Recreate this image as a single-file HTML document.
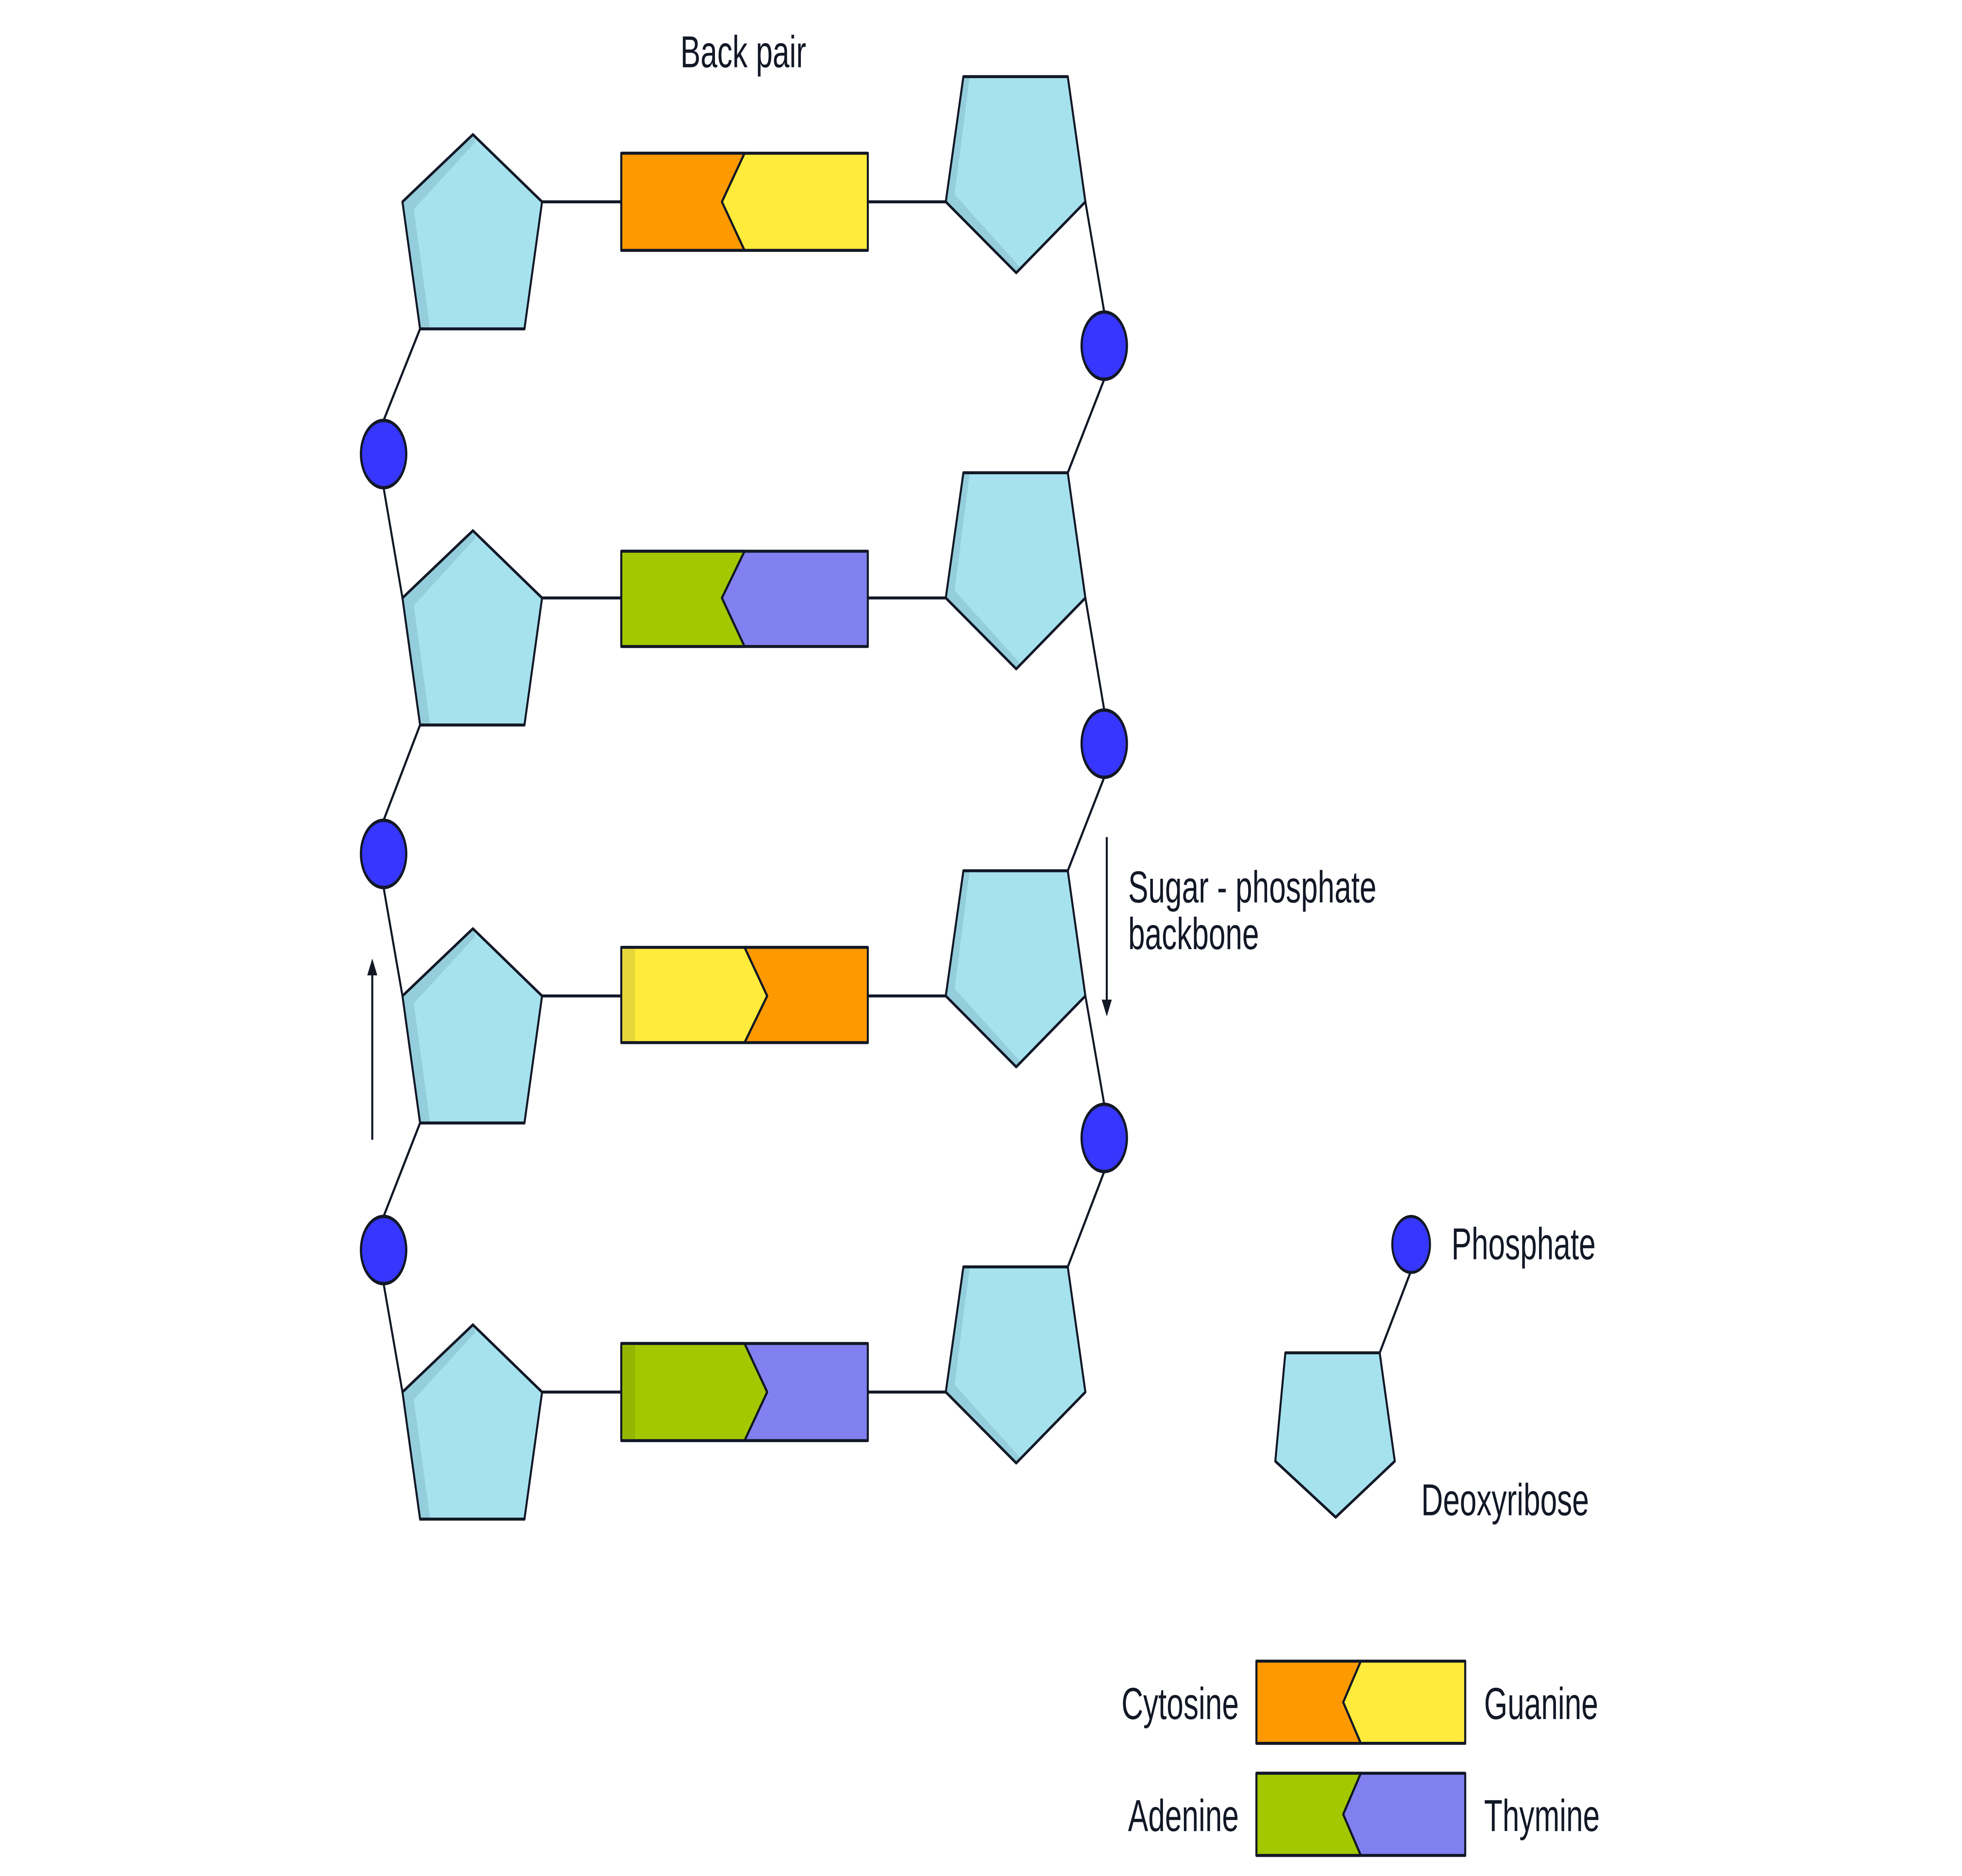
<!DOCTYPE html>
<html><head><meta charset="utf-8"><style>html,body{margin:0;padding:0;background:#fff;width:100%;height:100%;overflow:hidden}svg{display:block;position:fixed;left:0;top:0;width:100vw;height:100vh}</style></head>
<body>
<svg xmlns="http://www.w3.org/2000/svg" viewBox="0 0 1560 1004" preserveAspectRatio="none">
<defs>
<g id="lp">
<polygon points="376,72 320,108 334,176 417,176 431,108" fill="#a6e1ee"/>
<polygon points="376,72 320,108 334,176 342,176 329,112 378,76" fill="#94cddb"/>
<polygon points="376,72 320,108 334,176 417,176 431,108" fill="none" stroke="#121826" stroke-width="1.6" stroke-linejoin="round"/>
</g>
<g id="rp">
<polygon points="766,41 849,41 863,108 808,146 752,108" fill="#a6e1ee"/>
<polygon points="766,41 771,41 759,104 811,143 808,146 752,108" fill="#94cddb"/>
<polygon points="766,41 849,41 863,108 808,146 752,108" fill="none" stroke="#121826" stroke-width="1.6" stroke-linejoin="round"/>
</g>
<g id="ph">
<circle r="18" fill="#3636ff" stroke="#121826" stroke-width="1.8"/>
</g>
</defs>
<g stroke="#121826" stroke-width="1.6" fill="none">
<path d="M431,108H494M690,108H752M431,320H494M690,320H752M431,533H494M690,533H752M431,745H494M690,745H752"/>
<path d="M334,176L305,225M305,261L320,320M334,388L305,439M305,475L320,533M334,601L305,651M305,687L320,745"/>
<path d="M863,108L878,167M878,203L849,253M863,320L878,380M878,416L849,466M863,533L878,591M878,627L849,678"/>
<path d="M296,610V520M880,448V537"/>
<path d="M1122,680L1097,724"/>
</g>
<polygon points="296,513 292,522 300,522" fill="#121826"/>
<polygon points="880,544 876,535 884,535" fill="#121826"/>
<use href="#lp"/><use href="#lp" y="212"/><use href="#lp" y="425"/><use href="#lp" y="637"/>
<use href="#rp"/><use href="#rp" y="212"/><use href="#rp" y="425"/><use href="#rp" y="637"/>
<use href="#ph" x="305" y="243"/><use href="#ph" x="305" y="457"/><use href="#ph" x="305" y="669"/>
<use href="#ph" x="878" y="185"/><use href="#ph" x="878" y="398"/><use href="#ph" x="878" y="609"/>
<circle cx="1122" cy="666" r="15" fill="#3636ff" stroke="#121826" stroke-width="1.6"/>
<polygon points="1022,724 1097,724 1109,782 1062,812 1014,782" fill="#a6e1ee" stroke="#121826" stroke-width="1.6" stroke-linejoin="round"/>
<g stroke="#121826" stroke-width="1.6" stroke-linejoin="round">
<rect x="494" y="82" width="196" height="52" fill="#ffeb3b"/>
<polygon points="494,82 592,82 574,108 592,134 494,134" fill="#ff9900"/>
<rect x="494" y="295" width="196" height="51" fill="#8080f0"/>
<polygon points="494,295 592,295 574,320 592,346 494,346" fill="#a3c800"/>
<rect x="494" y="507" width="196" height="51" fill="#ff9900"/>
<polygon points="494,507 592,507 610,533 592,558 494,558" fill="#ffeb3b"/>
<rect x="494" y="719" width="196" height="52" fill="#8080f0"/>
<polygon points="494,719 592,719 610,745 592,771 494,771" fill="#a3c800"/>
<rect x="999" y="889" width="166" height="44" fill="#ffeb3b"/>
<polygon points="999,889 1082,889 1068,911 1082,933 999,933" fill="#ff9900"/>
<rect x="999" y="949" width="166" height="44" fill="#8080f0"/>
<polygon points="999,949 1082,949 1068,971 1082,993 999,993" fill="#a3c800"/>
</g>
<rect x="495" y="508" width="10" height="49" fill="#e6d63a"/>
<rect x="495" y="720" width="10" height="50" fill="#94b600"/>
<g font-family="Liberation Sans, sans-serif" font-size="24" fill="#121826">
<text x="591" y="36" text-anchor="middle">Back pair</text>
<text x="897" y="483">Sugar - phosphate</text>
<text x="897" y="508">backbone</text>
<text x="1154" y="674">Phosphate</text>
<text x="1130" y="811">Deoxyribose</text>
<text x="985" y="920" text-anchor="end">Cytosine</text>
<text x="1180" y="920">Guanine</text>
<text x="985" y="980" text-anchor="end">Adenine</text>
<text x="1180" y="980">Thymine</text>
</g>
</svg>
</body></html>
